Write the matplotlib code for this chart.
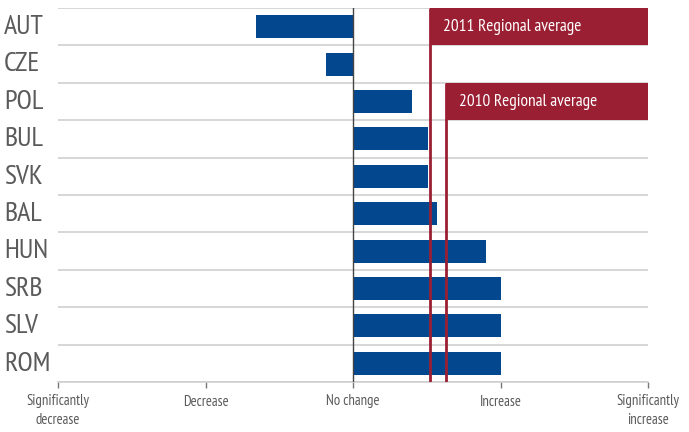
import matplotlib
matplotlib.use("Agg")
import matplotlib.pyplot as plt
from matplotlib.patches import Rectangle
import numpy as np

countries = ["AUT", "CZE", "POL", "BUL", "SVK", "BAL", "HUN", "SRB", "SLV", "ROM"]
change = [-0.66, -0.18, 0.40, 0.51, 0.51, 0.57, 0.90, 1.0, 1.0, 1.0]
avg_2011 = 0.52
avg_2010 = 0.63
tick_values = [-2, -1, 0, 1, 2]
tick_labels = ["Significantly\ndecrease", "Decrease", "No change", "Increase", "Significantly\nincrease"]

BLUE = "#03478e"
RED = "#9b1f33"
GRAY = "#5a5a5a"
GRID = "#cfcfcf"
FONT = dict(family=["PT Sans Narrow", "DejaVu Sans"])

fig = plt.figure(figsize=(6.89, 4.32), dpi=100)
ax = fig.add_axes([58 / 689, 1 - 382 / 432, 590 / 689, 374 / 432])

n = len(countries)
y = np.arange(n)
ax.barh(y, change, height=0.62, color=BLUE, zorder=3)

ax.set_xlim(-2, 2)
ax.set_ylim(n - 0.5, -0.5)

# row separators
for b in np.arange(-0.5, n, 1.0):
    ax.axhline(b, color=GRID, lw=1.2, zorder=1)

# zero line
ax.axvline(0, color="#444444", lw=1.0, zorder=4)

# regional average markers with their label boxes
for val, row, label in [(avg_2011, 0, "2011 Regional average"),
                        (avg_2010, 2, "2010 Regional average")]:
    ax.add_patch(Rectangle((val, row - 0.5), 2 - val, 1.0, color=RED, zorder=5, lw=0))
    ax.plot([val, val], [row - 0.5, n - 0.5], color=RED, lw=2.0, zorder=5,
            solid_capstyle="butt")
    ax.text(val + 0.09, row, label, color="white", fontsize=12.5, va="center",
            ha="left", zorder=6, **FONT)

for s in ["top", "right", "left"]:
    ax.spines[s].set_visible(False)
ax.spines["bottom"].set_color(GRID)
ax.spines["bottom"].set_linewidth(1.2)

ax.set_yticks([])
ax.set_xticks(tick_values)
ax.set_xticklabels(tick_labels, fontsize=10.5, color=GRAY, linespacing=1.45, **FONT)
ax.tick_params(axis="x", length=4, width=1, color="#777777", pad=5)

for i, c in enumerate(countries):
    fig.text(4 / 689, 1 - (27 + 37.4 * i) / 432, c, fontsize=20,
             color=GRAY, va="center", ha="left", **FONT)

fig.savefig("out.png", dpi=100)
